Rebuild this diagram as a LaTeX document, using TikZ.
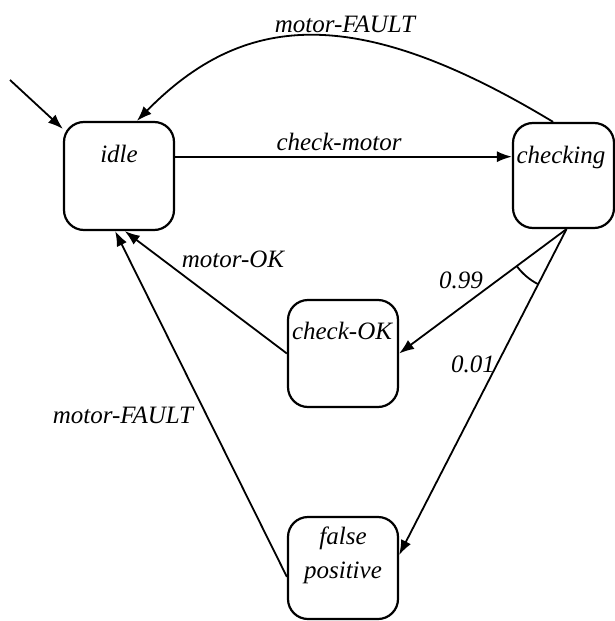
\documentclass[tikz,border=0pt]{standalone}
\usepackage{fontspec}
\newfontfamily\lblfont{Liberation Serif}[ItalicFont={Liberation Serif Italic}]
\usetikzlibrary{arrows.meta}
\begin{document}
\begin{tikzpicture}[x=1pt,y=-1pt,
  state/.style={draw, line width=2.2pt, rounded corners=20pt,
    minimum width=110pt, minimum height=108pt, inner sep=0pt},
  txt/.style={font=\lblfont\fontsize{25}{30}\selectfont\itshape, anchor=base, inner sep=0pt},
  link/.style={line width=1.8pt},
  edge/.style={link, -{Latex[length=15pt,width=11pt]}}]
\useasboundingbox (0,0) rectangle (615,621);

% states
\node[state] (idle) at (119,176) {};
\node[state, minimum width=101pt, minimum height=105pt] (checking) at (563.5,175.5) {};
\node[state, minimum height=107pt] (checkok) at (343,353.5) {};
\node[state, minimum height=102pt] (fp) at (343,568) {};

% state names, set near the top of each box
\node[txt] (idlet) at (119,162) {idle};
\node[txt] (checkingt) at (561,163) {checking};
\node[txt] (checkokt) at (342,339) {check-OK};
\node[txt] (fpt1) at (343,544) {false};
\node[txt] (fpt2) at (343,578) {positive};

% transition labels
\node[txt] (lfaulttop) at (345,32) {motor-FAULT};
\node[txt] (lcheck) at (339,150) {check-motor};
\node[txt] (lok) at (233,267) {motor-OK};
\node[txt] (lp99) at (461,288) {0.99};
\node[txt] (lp01) at (473,372) {0.01};
\node[txt] (lfaultleft) at (123,423) {motor-FAULT};

% transitions
\coordinate (start) at (10,80);
\coordinate (fork) at ([xshift=3pt]checking.south);
\draw[edge] (start) -- (idle.140);
\draw[edge] (checking.101) .. controls (353,1) and (242,14) .. (idle.72);
\draw[edge] (idle.19) -- (idle.19 -| checking.west);
\draw[edge] (fork) -- (checkok.east);
\draw[edge] (fork) -- (fp.13);
\draw[edge] (checkok.west) -- (idle.-84);
\draw[edge] (fp.189) -- (idle.-94);

% probabilistic branch marker
\draw[link] ([shift={(216.8:62pt)}]fork) arc[start angle=216.8, end angle=242.7, radius=62pt];
\end{tikzpicture}
\end{document}
